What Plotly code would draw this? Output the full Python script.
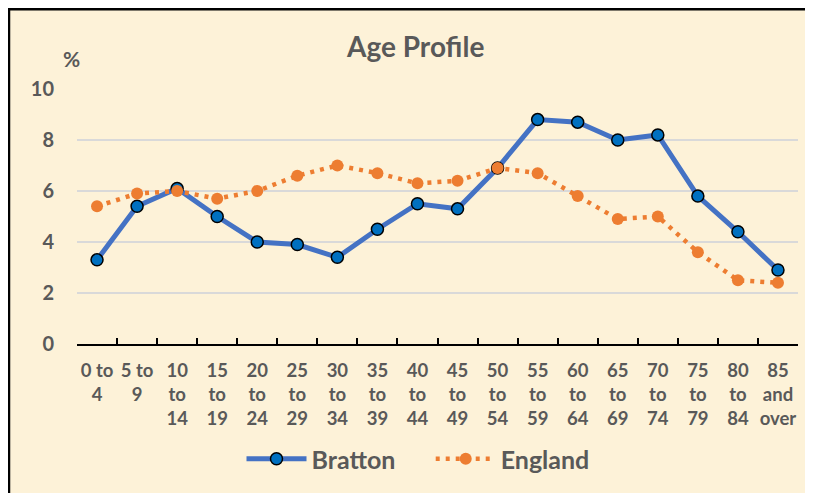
import plotly.graph_objects as go

categories = ["0 to<br>4", "5 to<br>9", "10<br>to<br>14", "15<br>to<br>19", "20<br>to<br>24",
              "25<br>to<br>29", "30<br>to<br>34", "35<br>to<br>39", "40<br>to<br>44", "45<br>to<br>49",
              "50<br>to<br>54", "55<br>to<br>59", "60<br>to<br>64", "65<br>to<br>69", "70<br>to<br>74",
              "75<br>to<br>79", "80<br>to<br>84", "85<br>and<br>over"]
bratton = [3.3, 5.4, 6.1, 5.0, 4.0, 3.9, 3.4, 4.5, 5.5, 5.3, 6.9, 8.8, 8.7, 8.0, 8.2, 5.8, 4.4, 2.9]
england = [5.4, 5.9, 6.0, 5.7, 6.0, 6.6, 7.0, 6.7, 6.3, 6.4, 6.9, 6.7, 5.8, 4.9, 5.0, 3.6, 2.5, 2.4]
y_ticks = [0, 2, 4, 6, 8, 10]

FONT = "Lato, 'Open Sans', sans-serif"
GREY = "#595959"
BG = "#FDF2D8"
NB = "\u00a0"

fig = go.Figure()
fig.add_trace(go.Scatter(
    x=categories, y=bratton, name="Bratton" + NB * 5, mode="lines+markers",
    line=dict(color="#4472C4", width=5),
    marker=dict(size=12, color="#0070C0", line=dict(color="black", width=1.5)),
))
fig.add_trace(go.Scatter(
    x=categories, y=england, name="England", mode="lines+markers",
    line=dict(color="#ED7D31", width=4.5, dash="4px,6px"),
    marker=dict(size=12, color="#ED7D31"),
))

# page body has an 8px margin: design in screen coordinates minus 8
OFF = 8
W, H = 813 - OFF, 493 - OFF
L, R, T, B = 69, W - 790, 81, H - 337
pw, ph = W - L - R, H - T - B

def px_x(p):  # screen pixel -> paper
    return (p - OFF - L) / pw

def px_y(p):
    return (H - B - (p - OFF)) / ph

fig.add_shape(type="rect", xref="paper", yref="paper", layer="below",
              x0=px_x(9), x1=px_x(840), y0=px_y(520), y1=px_y(9),
              fillcolor=BG, line=dict(color="black", width=2.5))

fig.add_annotation(text="Age Profile", xref="paper", yref="paper",
                   x=px_x(415), y=px_y(46), xanchor="center", yanchor="middle", showarrow=False,
                   font=dict(family=FONT, size=28, color=GREY, weight="bold"))
fig.add_annotation(text="%", xref="paper", yref="paper",
                   x=px_x(71), y=px_y(58), xanchor="center", yanchor="middle", showarrow=False,
                   font=dict(family=FONT, size=21, color=GREY, weight="bold"))

fig.update_layout(
    width=W, height=H,
    margin=dict(l=L, r=R, t=T, b=B),
    paper_bgcolor=BG,
    plot_bgcolor="rgba(0,0,0,0)",
    font=dict(family=FONT, color=GREY),
    showlegend=True,
    legend=dict(orientation="h", x=px_x(418), xanchor="center", y=px_y(459), yanchor="middle",
                font=dict(family=FONT, size=25, color=GREY, weight="bold"), bgcolor="rgba(0,0,0,0)",
                itemwidth=60),
    xaxis=dict(
        type="category", range=[-0.5, len(categories) - 0.5],
        showline=True, linecolor="black", linewidth=1.5,
        ticks="inside", tickson="boundaries", ticklen=6, tickcolor="black", tickwidth=1.5,
        showgrid=False, tickangle=0, ticklabelstandoff=9,
        tickfont=dict(family=FONT, size=18.5, color=GREY, weight="bold"),
    ),
    yaxis=dict(
        range=[0, 10], tickvals=y_ticks,
        showgrid=True, gridcolor="#D9D9D9", gridwidth=1.5,
        zeroline=False, showline=False,
        tickfont=dict(family=FONT, size=20, color=GREY, weight="bold"), ticklabelstandoff=22,
    ),
)

fig.write_html("out.html")
